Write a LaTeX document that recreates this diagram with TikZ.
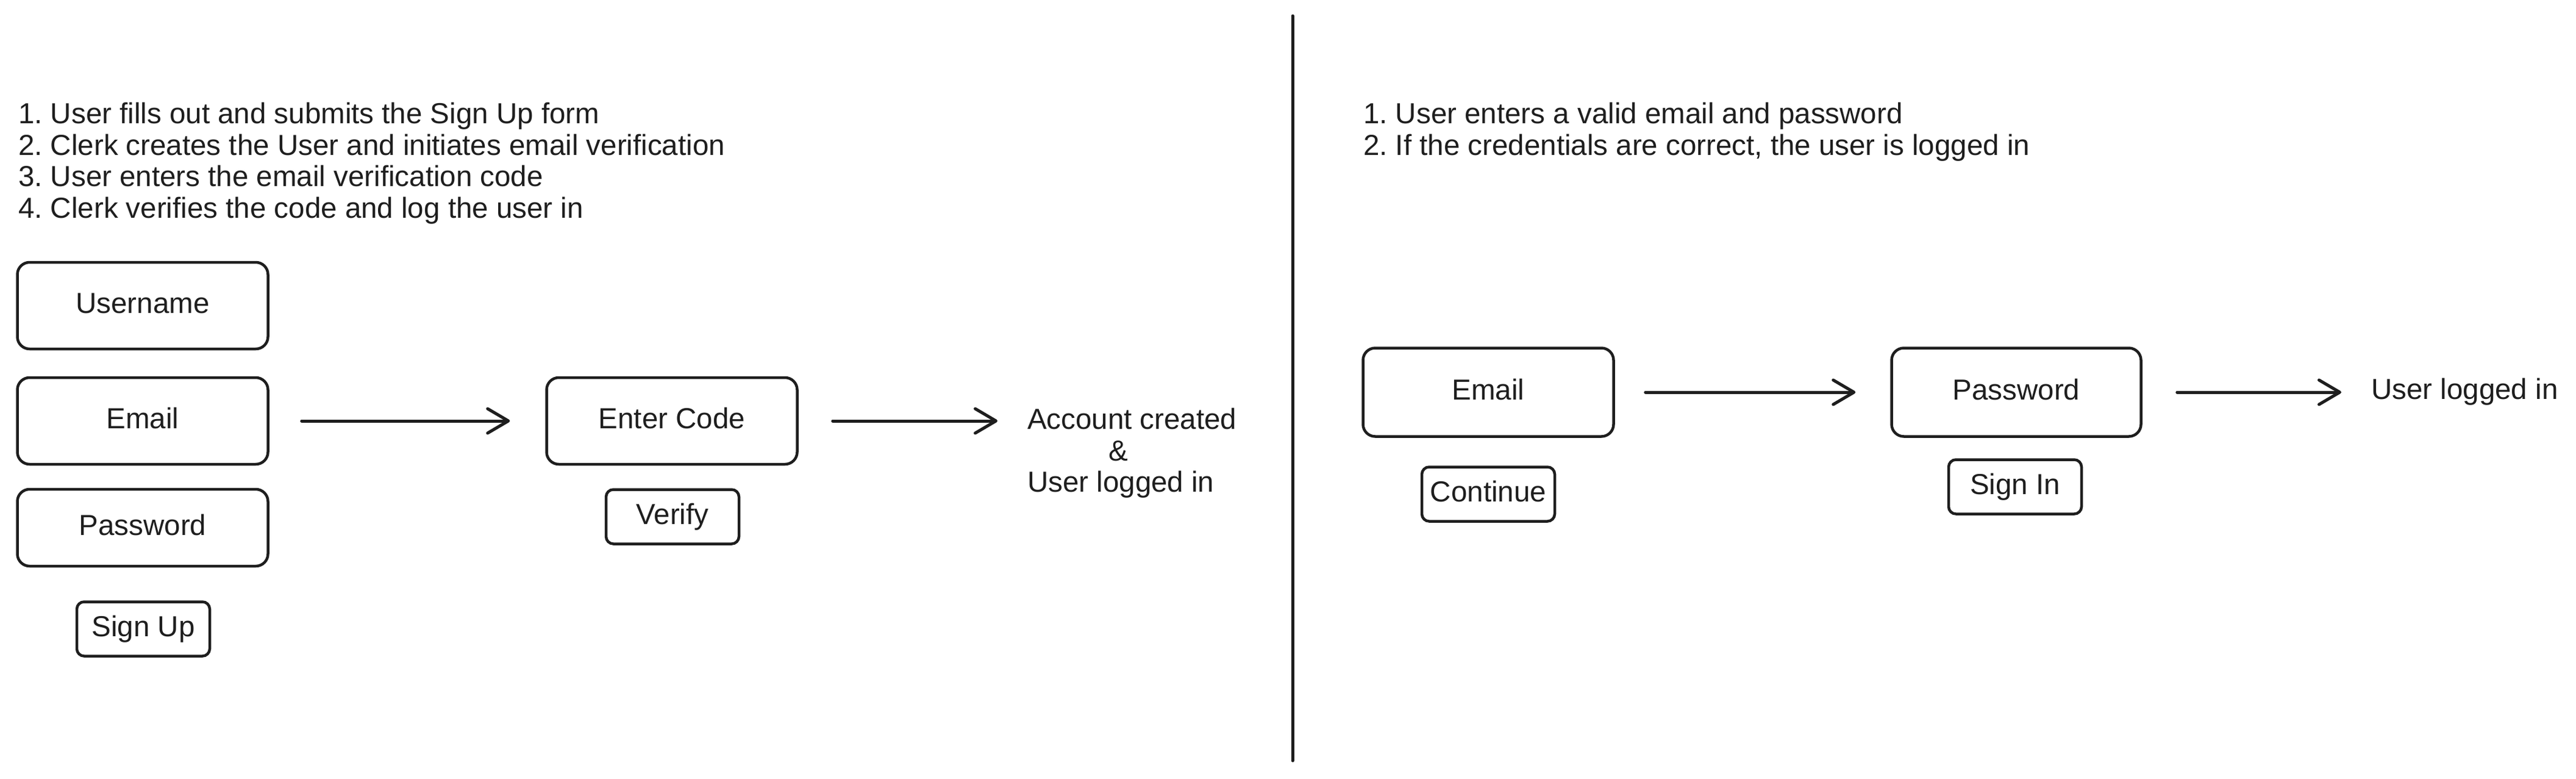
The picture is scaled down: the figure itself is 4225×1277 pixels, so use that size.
\documentclass[tikz,border=0pt]{standalone}
\usepackage{fontspec}
\setmainfont{Liberation Sans}
\usetikzlibrary{arrows.meta}
\definecolor{ink}{HTML}{1E1E1E}
\frenchspacing
\begin{document}
\begin{tikzpicture}[x=1pt,y=-1pt,
  txt/.style={text=ink, inner sep=0pt, font=\fontsize{47.5}{51.5}\selectfont\frenchspacing},
  field/.style={txt, draw=ink, line width=4.5pt, rounded corners=20pt,
    minimum width=411pt, minimum height=142pt, text height=34pt, text depth=10pt},
  fieldshort/.style={field, minimum height=126pt},
  button/.style={field, rounded corners=12pt, minimum width=218pt, minimum height=89pt},
  flow/.style={draw=ink, line width=5pt, line cap=round, line join=round,
    -{Straight Barb[length=34pt,width=40pt,line join=round,line cap=round]}},
  divider/.style={draw=ink, line width=5pt, line cap=round}
]
\useasboundingbox[fill=white] (0,0) rectangle (4225,1277);

% divider
\coordinate (dtop) at (2120,26);
\coordinate (dbot) at (2120,1247);
\draw[divider] (dtop) -- (dbot);

% ---------- Sign up ----------
\node[txt, anchor=north west, align=left] (steps1) at (30,168)
  {1. User fills out and submits the Sign Up form\\
   2. Clerk creates the User and initiates email verification\\
   3. User enters the email verification code\\
   4. Clerk verifies the code and log the user in};

\node[field] (user) at (234,501) {Username};
\node[field] (email) at (234,690) {Email};
\node[fieldshort] (pass) at (234,865) {Password};
\node[button] (signup) at (235,1031) {Sign Up};

\node[field] (code) at (1102,690) {Enter Code};
\node[button] (verify) at (1103,847) {Verify};

\node[txt, anchor=north west, align=left] (done1) at (1685,669)
  {Account created\\\hspace*{133pt}\&\\User logged in};

\draw[flow, shorten <=53pt, shorten >=58pt] (email.east) -- (code.west);
\draw[flow, shorten <=56pt, shorten >=49pt] (code.east) -- (code.east -| done1.west);

% ---------- Sign in ----------
\node[txt, anchor=north west, align=left] (steps2) at (2236,168)
  {1. User enters a valid email and password\\
   2. If the credentials are correct, the user is logged in};

\node[field, minimum height=145pt] (email2) at (2441,643) {Email};
\node[button] (cont) at (2441,810) {Continue};

\node[field, minimum height=145pt, minimum width=409pt] (pw2) at (3307,643) {Password};
\node[button] (signin) at (3305,798) {Sign In};

\node[txt, anchor=base west] (done2) at (3889,654) {User logged in};

\draw[flow, shorten <=50pt, shorten >=57pt] (email2.east) -- (pw2.west);
\draw[flow, shorten <=57pt, shorten >=49pt] (pw2.east) -- (pw2.east -| done2.west);
\end{tikzpicture}
\end{document}
